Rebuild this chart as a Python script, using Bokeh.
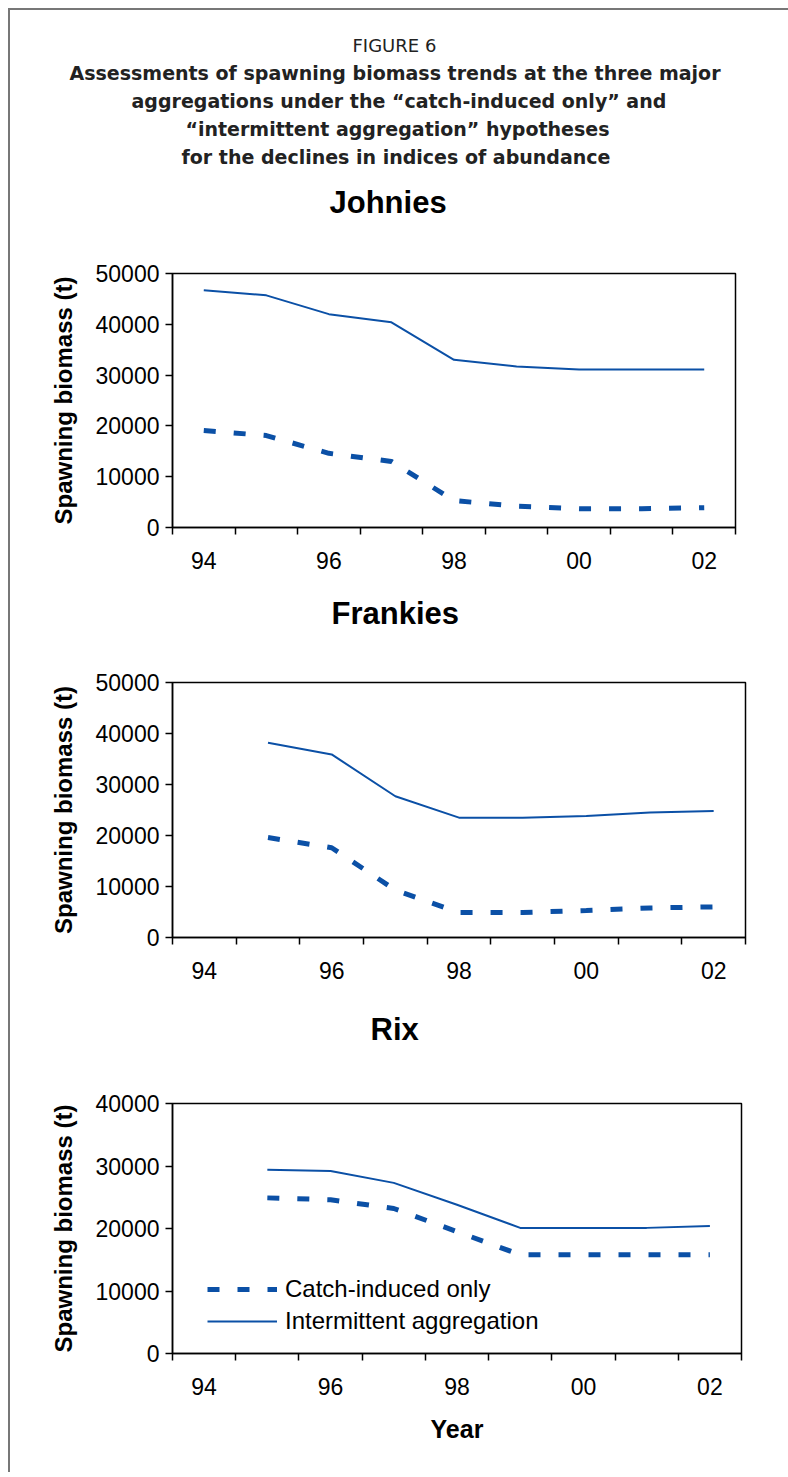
from bokeh.plotting import figure
from bokeh.models import (FixedTicker, NumeralTickFormatter, Title, Legend, LegendItem,
                          Range1d, LinearAxis)
from bokeh.layouts import column
from bokeh.embed import file_html
from bokeh.resources import INLINE

# ---------------- data ----------------
years = [1994, 1995, 1996, 1997, 1998, 1999, 2000, 2001, 2002]
year_labels = {1994: "94", 1996: "96", 1998: "98", 2000: "00", 2002: "02"}

johnies_years = [1994, 1995, 1996, 1997, 1998, 1999, 2000, 2001, 2002]
johnies_catch = [19100, 18100, 14600, 13000, 5300, 4200, 3700, 3700, 3900]
johnies_interm = [46700, 45700, 42000, 40400, 33000, 31700, 31100, 31100, 31100]

frankies_years = [1995, 1996, 1997, 1998, 1999, 2000, 2001, 2002]
frankies_catch = [19600, 17600, 9300, 4900, 4900, 5300, 5800, 6000]
frankies_interm = [38200, 35900, 27700, 23500, 23500, 23800, 24500, 24800]

rix_years = [1995, 1996, 1997, 1998, 1999, 2000, 2001, 2002]
rix_catch = [24900, 24600, 23200, 19500, 15800, 15800, 15800, 15800]
rix_interm = [29400, 29200, 27300, 23800, 20100, 20100, 20100, 20400]

y_ticks_50 = [0, 10000, 20000, 30000, 40000, 50000]
y_ticks_40 = [0, 10000, 20000, 30000, 40000]

figure_label = "FIGURE 6"
caption_lines = [
    "Assessments of spawning biomass trends at the three major",
    "aggregations under the \u201ccatch-induced only\u201d and",
    "\u201cintermittent aggregation\u201d hypotheses",
    "for the declines in indices of abundance",
]

# ---------------- style ----------------
BLUE = "#0b50a6"
AX_FONT = "Liberation Sans"
HEAD_FONT = "DejaVu Sans"
# horizontal offsets (from frame left) so that titles are centred on the page
caption_offsets = [-103, -41, 13, 9]
figure_label_offset = 180


def make_panel(name, yrs, catch, interm, ymax, yticks, fw, fh, left, right, top, bottom,
               space, title_offset):
    p = figure(frame_width=fw, frame_height=fh, output_backend="svg", toolbar_location=None,
               x_range=Range1d(1993.5, 2002.5), y_range=Range1d(0, ymax),
               min_border_left=left, min_border_right=right, min_border_top=top,
               min_border_bottom=bottom, background_fill_color="white",
               border_fill_color="white")
    p.xgrid.visible = False
    p.ygrid.visible = False
    p.outline_line_color = "black"
    p.outline_line_width = 1.5

    xa = p.below[0]
    xa.ticker = FixedTicker(ticks=[1994, 1996, 1998, 2000, 2002],
                            minor_ticks=[y - 0.5 for y in years] + [2002.5])
    xa.major_label_overrides = year_labels
    xa.major_tick_line_color = None
    xa.major_tick_out = 7
    xa.major_tick_in = 0
    xa.minor_tick_line_color = "black"
    xa.minor_tick_line_width = 1.5
    xa.minor_tick_out = 7
    xa.minor_tick_in = 0
    xa.axis_line_width = 1.5
    xa.major_label_text_font = AX_FONT
    xa.major_label_text_font_size = "23px"
    xa.major_label_text_color = "black"
    xa.major_label_standoff = 17

    ya = p.left[0]
    ya.ticker = FixedTicker(ticks=yticks)
    ya.formatter = NumeralTickFormatter(format="0")
    ya.major_tick_out = 7
    ya.major_tick_in = 0
    ya.major_tick_line_width = 1.5
    ya.minor_tick_line_color = None
    ya.axis_line_width = 1.5
    ya.major_label_text_font = AX_FONT
    ya.major_label_text_font_size = "23px"
    ya.major_label_text_color = "black"
    ya.major_label_standoff = 6
    ya.axis_label = "Spawning biomass (t)"
    ya.axis_label_text_font = AX_FONT
    ya.axis_label_text_font_size = "24px"
    ya.axis_label_text_font_style = "bold"
    ya.axis_label_text_color = "black"
    ya.axis_label_standoff = 16

    # invisible spacer between frame and panel title: an unlabelled axis whose
    # single tick is fully transparent
    gap = LinearAxis(ticker=FixedTicker(ticks=[1998]), major_tick_out=space,
                     major_tick_in=0, major_tick_line_color="white",
                     major_tick_line_alpha=0.003, minor_tick_line_color=None,
                     axis_line_color=None, major_label_standoff=0,
                     major_label_text_color=None, major_label_text_font_size="1px")
    p.add_layout(gap, "above")
    p.add_layout(Title(text=name, align="left", offset=title_offset, text_font=AX_FONT,
                       text_font_size="31px", text_font_style="bold", text_color="black",
                       standoff=26), "above")

    r_dash = p.line(yrs, catch, line_color=BLUE, line_width=5, line_dash="12 18",
                    line_cap="butt")
    r_solid = p.line(yrs, interm, line_color=BLUE, line_width=2)
    return p, xa, r_dash, r_solid


p1, _, _, _ = make_panel("Johnies", johnies_years, johnies_catch, johnies_interm, 50000,
                         y_ticks_50, 563, 254, 162, 53, 263, 53, 41, 157)
for line, off in reversed(list(zip(caption_lines, caption_offsets))):
    p1.add_layout(Title(text=line, align="left", offset=off, text_font=HEAD_FONT,
                        text_font_size="19px", text_font_style="bold",
                        text_color="#222222", standoff=4), "above")
p1.add_layout(Title(text=figure_label, align="left", offset=figure_label_offset,
                    text_font=HEAD_FONT, text_font_size="18px", text_font_style="normal",
                    text_color="#222222", standoff=4), "above")

p2, _, _, _ = make_panel("Frankies", frankies_years, frankies_catch, frankies_interm, 50000,
                         y_ticks_50, 573, 255, 152, 53, 0, 59, 39, 159)

p3, xa3, rd, rs = make_panel("Rix", rix_years, rix_catch, rix_interm, 40000,
                             y_ticks_40, 569, 250, 154, 55, 0, 119, 44, 198)
xa3.axis_label = "Year"
xa3.axis_label_text_font = AX_FONT
xa3.axis_label_text_font_size = "25px"
xa3.axis_label_text_font_style = "bold"
xa3.axis_label_text_color = "black"
xa3.axis_label_standoff = 17

legend = Legend(items=[LegendItem(label="Catch-induced only", renderers=[rd]),
                       LegendItem(label="Intermittent aggregation", renderers=[rs])],
                location=(35, 17), border_line_color=None, background_fill_alpha=0,
                glyph_width=70, glyph_height=20, label_standoff=8,
                label_text_font=AX_FONT, label_text_font_size="24px",
                label_text_color="black", label_height=30, spacing=2,
                padding=0, margin=0)
p3.add_layout(legend)

layout = column(p1, p2, p3, spacing=0,
                styles={"margin-left": "8px", "margin-top": "8px",
                        "border-top": "2px solid #777777",
                        "border-left": "2px solid #777777"})

open("out.html", "w").write(file_html(layout, INLINE))
